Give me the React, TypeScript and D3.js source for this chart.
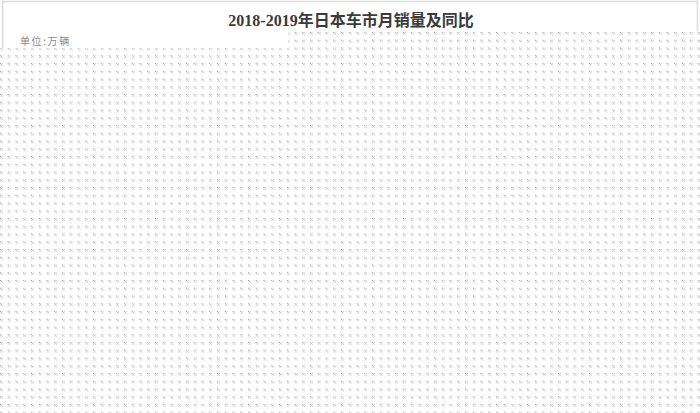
import React, { useEffect, useRef } from "react";
import * as d3 from "d3";

const WIDTH = 700;
const HEIGHT = 413;
const titleText = "2018-2019年日本车市月销量及同比";
const unitText = "单位:万辆";
// No series are visible in the reference: the plot area is covered by a placeholder pattern.
const categories: string[] = [];
const salesValues: number[] = [];
const yoyValues: number[] = [];

export default function App() {
  const ref = useRef<SVGSVGElement | null>(null);

  useEffect(() => {
    document.body.style.margin = "0";
    const svg = d3.select(ref.current);
    svg.selectAll("*").remove();

    svg.append("rect").attr("width", WIDTH).attr("height", HEIGHT).attr("fill", "#fff");

    const defs = svg.append("defs");
    const pat = defs
      .append("pattern")
      .attr("id", "dots")
      .attr("patternUnits", "userSpaceOnUse")
      .attr("x", 0)
      .attr("y", 32)
      .attr("width", 7.75)
      .attr("height", 7.75);
    const motif: [number, number, string][] = [
      [0, 0, "#9a9a9a"],
      [2, 0, "#d4d4d4"],
      [1, 1, "#b8b8b8"],
      [0, 2, "#dadada"],
      [2, 2, "#cfcfcf"],
    ];
    pat
      .selectAll("rect")
      .data(motif)
      .join("rect")
      .attr("x", (d) => d[0])
      .attr("y", (d) => d[1])
      .attr("width", 1)
      .attr("height", 1)
      .attr("fill", (d) => d[2]);

    // frame lines
    svg
      .append("path")
      .attr("d", "M2.5,48 V1.5 H697.5 V31")
      .attr("fill", "none")
      .attr("stroke", "#dcdcdc")
      .attr("stroke-width", 1.5);

    // patterned area
    svg
      .append("path")
      .attr("d", `M0,48 H288 V31.5 H${WIDTH} V${HEIGHT} H0 Z`)
      .attr("fill", "url(#dots)");

    svg
      .append("text")
      .attr("x", 351)
      .attr("y", 26)
      .attr("text-anchor", "middle")
      .attr("font-family", "'Liberation Serif', 'Noto Sans CJK SC', serif")
      .attr("font-weight", "bold")
      .attr("font-size", 16)
      .attr("fill", "#3a3a3a")
      .text(titleText);

    svg
      .append("text")
      .attr("x", 20)
      .attr("y", 45)
      .attr("font-family", "'Noto Sans CJK SC', sans-serif")
      .attr("font-size", 10)
      .attr("letter-spacing", 1.6)
      .attr("fill", "#8a8a8a")
      .text(unitText);

    void categories;
    void salesValues;
    void yoyValues;
  }, []);

  return (
    <svg
      ref={ref}
      width={WIDTH}
      height={HEIGHT}
      style={{ position: "absolute", left: 0, top: 0, display: "block" }}
    />
  );
}
